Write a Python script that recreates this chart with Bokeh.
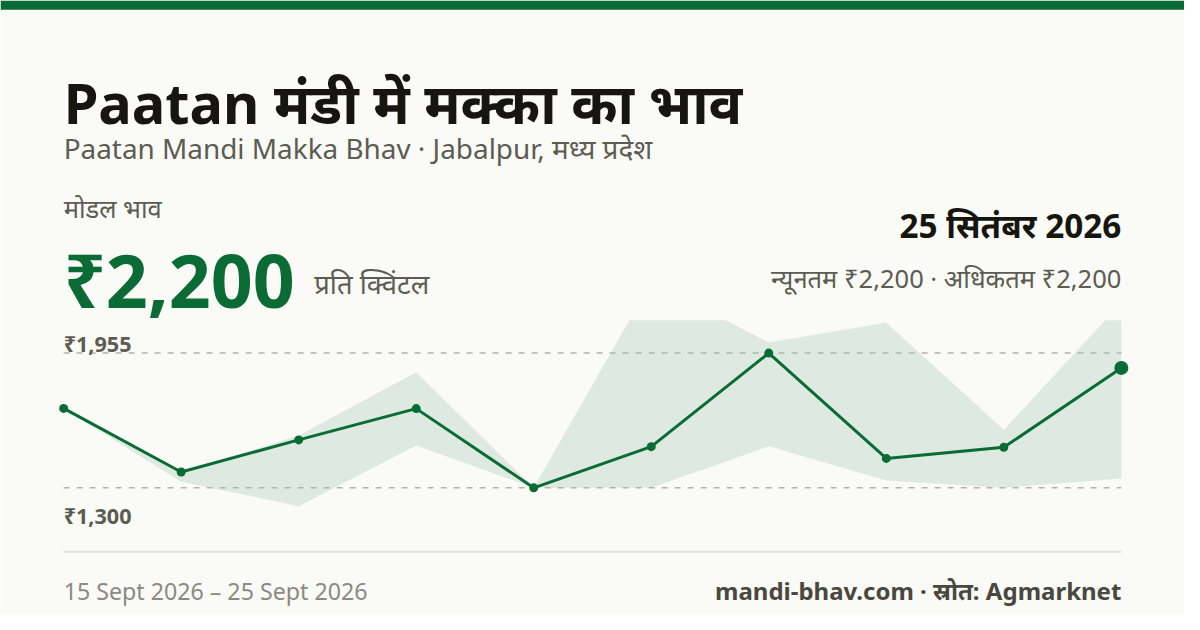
from bokeh.plotting import figure
from bokeh.models import Range1d
from bokeh.embed import file_html
from bokeh.resources import INLINE
from bokeh.core.properties import value

# ---------------- data ----------------
dates = ["15 Sept", "16 Sept", "17 Sept", "18 Sept", "19 Sept",
         "21 Sept", "22 Sept", "23 Sept", "24 Sept", "25 Sept"]
modal_price = [1686, 1377, 1533, 1685, 1300, 1500, 1955, 1443, 1497, 1883]
min_price = [1686, 1330, 1211, 1506, 1300, 1300, 1502, 1336, 1300, 1345]
max_price = [1686, 1377, 1554, 1862, 1300, 2300, 2007, 2102, 1582, 2200]
ref_values = [1955, 1300]
ref_labels = ["₹1,955", "₹1,300"]

title_text = "Paatan मंडी में मक्का का भाव"
subtitle_text = "Paatan Mandi Makka Bhav · Jabalpur, मध्य प्रदेश"
modal_caption = "मोडल भाव"
modal_value_text = "₹2,200"
unit_text = "प्रति क्विंटल"
date_text = "25 सितंबर 2026"
range_text = "न्यूनतम ₹2,200 · अधिकतम ₹2,200"
footer_left = "15 Sept 2026 – 25 Sept 2026"
footer_right = "mandi-bhav.com · स्रोत: Agmarknet"

# ---------------- style / layout ----------------
FONT = "Noto Sans"
BG = "#fafaf6"
GREEN = "#0b6b35"
BAND = "#dee9e1"
DARK = "#16160f"
GRAY = "#5c5c52"
LIGHT = "#8a8a80"

W, H = 1184, 614
SX, SY = W / 1200, H / 630          # design grid is 1200x630
SF = 0.98


def X(v):
    return v * SX


def Y(v):
    return v * SY


def F(px):
    return f"{px * SF:.1f}px"


L, R, T, B = X(64), X(1136), Y(328), Y(534)   # chart area
Y_LO, Y_HI = 1139, 2115                       # value range shown in chart area

p = figure(width=W, height=H, output_backend="svg", toolbar_location=None,
           x_range=Range1d(0, W), y_range=Range1d(H, 0),
           x_axis_type=None, y_axis_type=None, min_border=0,
           background_fill_color=BG, border_fill_color=BG)
p.outline_line_color = None
p.grid.visible = False

n = len(modal_price)
idx = list(range(n))
span = n - 1
xs0 = -L / (R - L) * span
xs1 = span + (W - R) / (R - L) * span
vpp = (Y_HI - Y_LO) / (B - T)
ys0 = Y_LO - (H - B) * vpp
ys1 = Y_HI + T * vpp
p.extra_x_ranges = {"chart": Range1d(xs0, xs1)}
p.extra_y_ranges = {"chart": Range1d(ys0, ys1)}
C = dict(x_range_name="chart", y_range_name="chart")

# band of min/max
p.varea(x=idx, y1=min_price, y2=max_price, fill_color=BAND, **C)
# clip band at chart top
p.quad(left=[0], right=[W], top=[0], bottom=[T], fill_color=BG, line_color=None)

# top bar
p.quad(left=[0], right=[W], top=[0], bottom=[Y(9.5)], fill_color=GREEN, line_color=None)

# reference dashed lines
for v in ref_values:
    p.segment(x0=[0], x1=[span], y0=[v], y1=[v], line_color="#b4b4ac",
              line_width=1.5, line_dash="6 7", **C)

# modal line
p.line(idx, modal_price, line_color=GREEN, line_width=3, **C)
p.scatter(idx[:-1], modal_price[:-1], size=9, fill_color=GREEN, line_color=None, **C)
p.scatter(idx[-1:], modal_price[-1:], size=14, fill_color=GREEN, line_color=None, **C)

# reference labels
p.text(x=[0], y=[ref_values[0]], text=[ref_labels[0]], y_offset=-9.5,
       text_font=value(FONT), text_font_size=F(22), text_font_style="bold",
       text_color=GRAY, text_baseline="alphabetic", **C)
p.text(x=[0], y=[ref_values[1]], text=[ref_labels[1]], y_offset=27.5,
       text_font=value(FONT), text_font_size=F(22), text_font_style="bold",
       text_color=GRAY, text_baseline="alphabetic", **C)

# separator
p.segment(x0=[L], x1=[R], y0=[Y(565.5)], y1=[Y(565.5)], line_color="#e2e2da", line_width=2)


def txt(x, y, s, size, color, bold=False, align="left"):
    p.text(x=[X(x)], y=[Y(y)], text=[s], text_font=value(FONT), text_font_size=F(size),
           text_font_style="bold" if bold else "normal", text_color=color,
           text_align=align, text_baseline="alphabetic")


txt(64, 104.5, title_text, 57, DARK, bold=True)
txt(64, 151.5, subtitle_text, 28.5, GRAY)
txt(64, 212.5, modal_caption, 26, GRAY)
txt(64, 286.5, modal_value_text, 75, GREEN, bold=True)
txt(318, 290.5, unit_text, 28, GRAY)
txt(1136, 230.5, date_text, 34, DARK, bold=True, align="right")
txt(1136, 284.5, range_text, 26, GRAY, align="right")
txt(64, 605.5, footer_left, 23.7, LIGHT)
txt(1136, 605.5, footer_right, 24.5, "#48483e", bold=True, align="right")

open("out.html", "w").write(file_html(p, INLINE))
